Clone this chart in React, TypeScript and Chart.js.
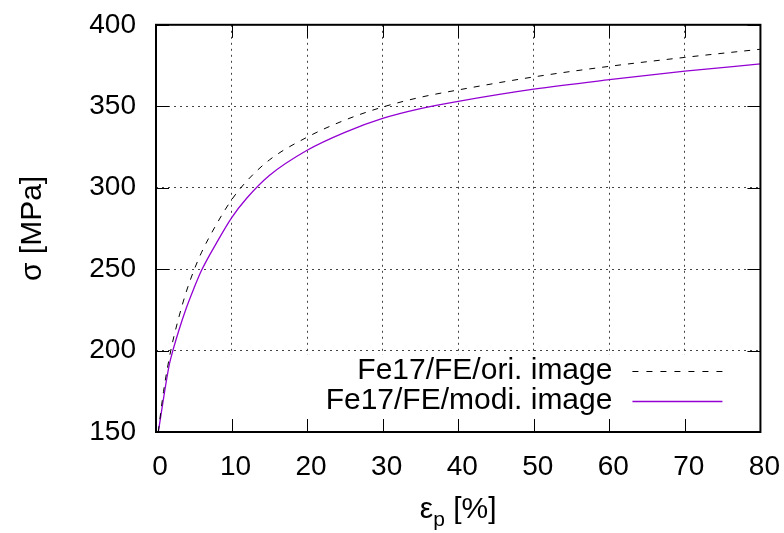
import React, { useEffect, useRef } from "react";
import { Chart, registerables } from "chart.js";

Chart.register(...registerables);

const xOri = [0.3, 1, 2, 3, 4, 5, 6, 8, 10, 12, 15, 20, 25, 30, 35, 40, 50, 60, 70, 80];
const yOri = [150, 175, 201, 220, 236, 249, 260, 277.5, 292.5, 304, 317, 331, 341.5, 349.5, 355.5, 360, 368, 374.5, 380, 385];
const xModi = [0.3, 1.7, 2, 3, 4, 5, 6, 8, 10, 12, 15, 20, 25, 30, 35, 40, 50, 60, 70, 80];
const yModi = [150, 190, 196, 212, 226, 238, 249, 266, 281.5, 293.5, 307.5, 323, 334, 342.5, 348.5, 353, 360.5, 366.3, 371.5, 376];
const seriesNames = ["Fe17/FE/ori. image", "Fe17/FE/modi. image"];
const xTitle = ["ε", "p", " [%]"];
const yTitle = "σ [MPa]";
const xMin = 0, xMax = 80, xStep = 10;
const yMin = 150, yMax = 400, yStep = 50;

const FONT = "'Liberation Sans', Arial, sans-serif";
const PURPLE = "#9400d3";

const decorPlugin = {
  id: "decor",
  beforeDatasetsDraw(chart: any) {
    const { ctx, chartArea: a } = chart;
    ctx.save();
    ctx.fillStyle = "#fff";
    const top = a.bottom - 77;
    ctx.fillRect(200, top, a.right - 1 - 200, a.bottom - 1 - top);
    ctx.restore();
  },
  afterDraw(chart: any) {
    const { ctx, chartArea: a, scales } = chart;
    const xs = scales.x, ys = scales.y;
    ctx.save();
    ctx.strokeStyle = "#000";
    ctx.lineWidth = 1;
    ctx.setLineDash([]);
    const tl = 13;
    ctx.beginPath();
    for (const t of xs.ticks) {
      const px = Math.round(xs.getPixelForValue(t.value)) + 0.5;
      ctx.moveTo(px, a.bottom);
      ctx.lineTo(px, a.bottom - tl);
      ctx.moveTo(px, a.top);
      ctx.lineTo(px, a.top + tl);
    }
    for (const t of ys.ticks) {
      const py = Math.round(ys.getPixelForValue(t.value)) + 0.5;
      ctx.moveTo(a.left, py);
      ctx.lineTo(a.left + tl, py);
      ctx.moveTo(a.right, py);
      ctx.lineTo(a.right - tl, py);
    }
    ctx.stroke();
    ctx.lineWidth = 2;
    ctx.strokeRect(a.left, a.top, a.right - a.left, a.bottom - a.top);

    // legend
    ctx.font = `30px ${FONT}`;
    ctx.fillStyle = "#000";
    ctx.textAlign = "right";
    ctx.textBaseline = "middle";
    const textX = a.right - 148;
    const rows = [a.bottom - 61, a.bottom - 31];
    ctx.fillText(seriesNames[0], textX, rows[0]);
    ctx.fillText(seriesNames[1], textX, rows[1]);
    ctx.lineWidth = 1;
    ctx.strokeStyle = "#000";
    ctx.setLineDash([6, 8]);
    ctx.beginPath();
    ctx.moveTo(a.right - 128, rows[0] + 0.5);
    ctx.lineTo(a.right - 38, rows[0] + 0.5);
    ctx.stroke();
    ctx.setLineDash([]);
    ctx.strokeStyle = PURPLE;
    ctx.lineWidth = 1.3;
    ctx.beginPath();
    ctx.moveTo(a.right - 128, rows[1] + 0.5);
    ctx.lineTo(a.right - 38, rows[1] + 0.5);
    ctx.stroke();

    // axis titles
    ctx.fillStyle = "#000";
    ctx.textBaseline = "alphabetic";
    ctx.textAlign = "left";
    ctx.font = `30px ${FONT}`;
    const w0 = ctx.measureText(xTitle[0]).width;
    ctx.font = `21px ${FONT}`;
    const w1 = ctx.measureText(xTitle[1]).width;
    ctx.font = `30px ${FONT}`;
    const w2 = ctx.measureText(xTitle[2]).width;
    const total = w0 + w1 + w2;
    const cx = (a.left + a.right) / 2;
    const x0 = cx - total / 2;
    const base = a.bottom + 86;
    ctx.fillText(xTitle[0], x0, base);
    ctx.font = `21px ${FONT}`;
    ctx.fillText(xTitle[1], x0 + w0, base + 8);
    ctx.font = `30px ${FONT}`;
    ctx.fillText(xTitle[2], x0 + w0 + w1, base);

    ctx.translate(33, (a.top + a.bottom) / 2);
    ctx.rotate(-Math.PI / 2);
    ctx.textAlign = "center";
    ctx.textBaseline = "middle";
    ctx.fillText(yTitle, 0, 0);
    ctx.restore();
  },
};

export default function App() {
  const ref = useRef<HTMLCanvasElement | null>(null);
  useEffect(() => {
    if (!ref.current) return;
    const chart = new Chart(ref.current, {
      type: "line",
      data: {
        datasets: [
          {
            label: seriesNames[0],
            data: xOri.map((x, i) => ({ x, y: yOri[i] })),
            borderColor: "#000",
            borderWidth: 1,
            borderDash: [6, 7],
            pointRadius: 0,
            cubicInterpolationMode: "monotone",
            fill: false,
          },
          {
            label: seriesNames[1],
            data: xModi.map((x, i) => ({ x, y: yModi[i] })),
            borderColor: PURPLE,
            borderWidth: 1.3,
            pointRadius: 0,
            cubicInterpolationMode: "monotone",
            fill: false,
          },
        ],
      },
      options: {
        animation: false,
        responsive: true,
        maintainAspectRatio: false,
        layout: { padding: { top: 0, right: 0, left: 0, bottom: 0 } },
        plugins: { legend: { display: false }, tooltip: { enabled: false } },
        scales: {
          x: {
            type: "linear",
            min: xMin,
            max: xMax,
            afterFit: (s: any) => { s.height = 101; },
            ticks: {
              stepSize: xStep,
              color: "#000",
              font: { family: FONT, size: 28 },
              padding: 18,
              labelOffset: 4,
              maxRotation: 0,
            },
            grid: { color: "#444", drawTicks: false, lineWidth: 1 },
            border: { display: false, dash: [2, 4] },
          },
          y: {
            type: "linear",
            min: yMin,
            max: yMax,
            afterFit: (s: any) => { s.width = 156; },
            ticks: {
              stepSize: yStep,
              color: "#000",
              font: { family: FONT, size: 28 },
              padding: 20,
            },
            grid: { color: "#444", drawTicks: false, lineWidth: 1 },
            border: { display: false, dash: [2, 4] },
          },
        },
      },
      plugins: [decorPlugin],
    });
    return () => chart.destroy();
  }, []);
  return (
    <div style={{ position: "fixed", left: 0, top: -12, width: 794, height: 545, background: "#fff" }}>
      <canvas ref={ref} />
    </div>
  );
}
